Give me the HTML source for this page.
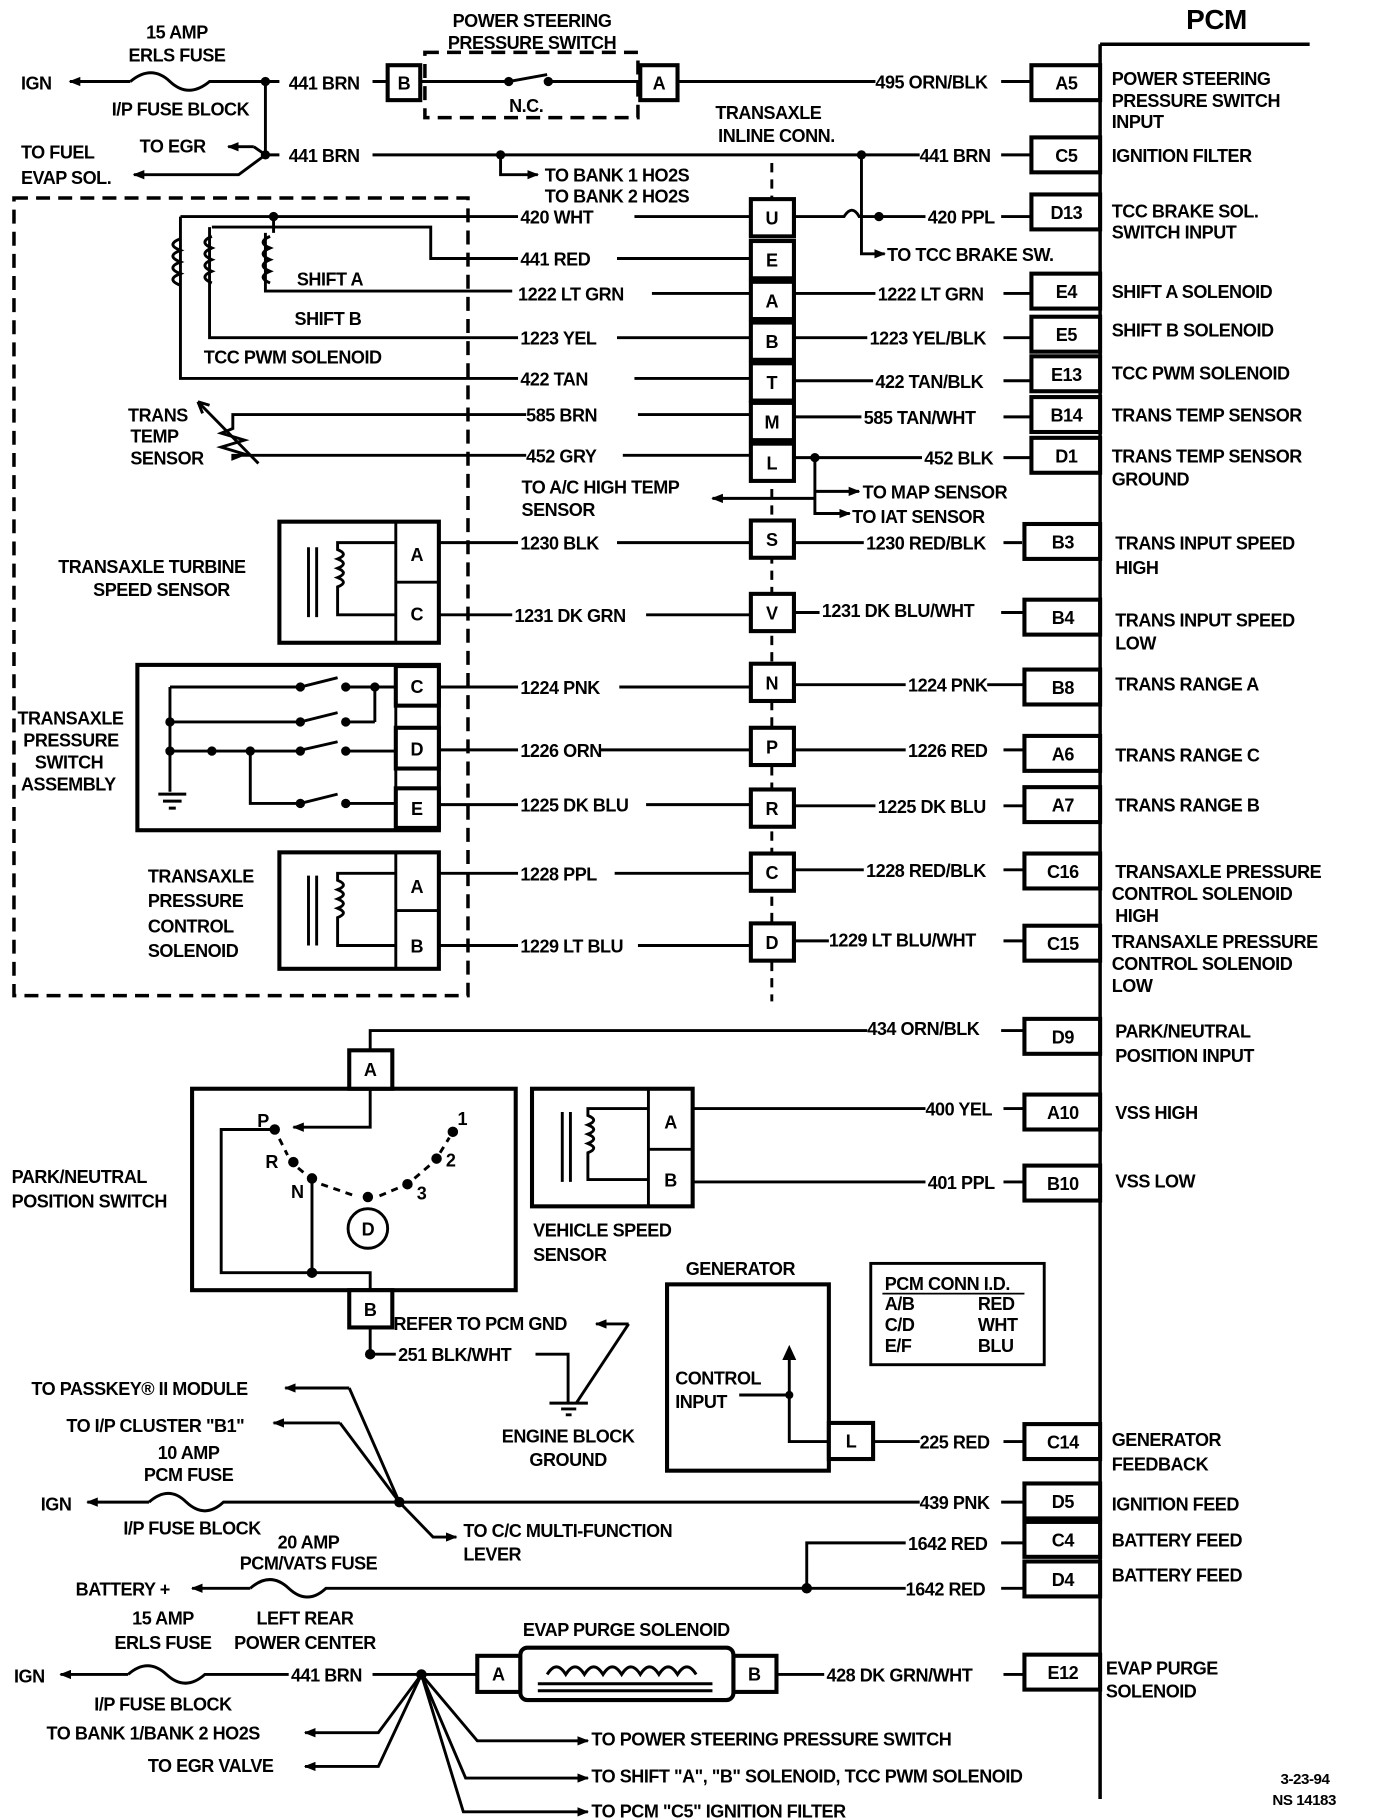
<!DOCTYPE html>
<html><head><style>
html,body{margin:0;padding:0;background:#fff}
svg{display:block}
text{font-family:"Liberation Sans",Arial,sans-serif;font-weight:bold;font-size:15.5px;fill:#000;letter-spacing:-0.4px}
.l{stroke:#000;stroke-width:2.5;fill:none}
.b{stroke:#000;stroke-width:3.5;fill:#fff}
.d{stroke:#000;stroke-width:3;fill:none;stroke-dasharray:12 7}
.c{text-anchor:middle}
</style></head><body>
<svg width="1376" height="1820" viewBox="0 0 1182 1563" preserveAspectRatio="none" xmlns="http://www.w3.org/2000/svg">
<defs>
<marker id="a" markerWidth="10" markerHeight="8" refX="9" refY="4" orient="auto" markerUnits="userSpaceOnUse"><path d="M0,0 L10,4 L0,8 z" fill="#000"/></marker>
</defs>
<!-- PCM -->
<text x="1045" y="25" class="c" style="font-size:24px">PCM</text>
<path class="l" d="M945,38 H1125 M945,38 V1545" style="stroke-width:3"/>
<g>
<rect class="b" x="886" y="56" width="59" height="30"/><text x="916" y="77" class="c">A5</text>
<rect class="b" x="886" y="118" width="59" height="30"/><text x="916" y="139" class="c">C5</text>
<rect class="b" x="886" y="167" width="59" height="30"/><text x="916" y="188" class="c">D13</text>
<rect class="b" x="886" y="235" width="59" height="30"/><text x="916" y="256" class="c">E4</text>
<rect class="b" x="886" y="272" width="59" height="30"/><text x="916" y="293" class="c">E5</text>
<rect class="b" x="886" y="306" width="59" height="30"/><text x="916" y="327" class="c">E13</text>
<rect class="b" x="886" y="341" width="59" height="30"/><text x="916" y="362" class="c">B14</text>
<rect class="b" x="886" y="376" width="59" height="30"/><text x="916" y="397" class="c">D1</text>
<rect class="b" x="880" y="450" width="65" height="30"/><text x="913" y="471" class="c">B3</text>
<rect class="b" x="880" y="515" width="65" height="30"/><text x="913" y="536" class="c">B4</text>
<rect class="b" x="880" y="575" width="65" height="30"/><text x="913" y="596" class="c">B8</text>
<rect class="b" x="880" y="632" width="65" height="30"/><text x="913" y="653" class="c">A6</text>
<rect class="b" x="880" y="676" width="65" height="30"/><text x="913" y="697" class="c">A7</text>
<rect class="b" x="880" y="733" width="65" height="30"/><text x="913" y="754" class="c">C16</text>
<rect class="b" x="880" y="795" width="65" height="30"/><text x="913" y="816" class="c">C15</text>
<rect class="b" x="880" y="875" width="65" height="30"/><text x="913" y="896" class="c">D9</text>
<rect class="b" x="880" y="940" width="65" height="30"/><text x="913" y="961" class="c">A10</text>
<rect class="b" x="880" y="1001" width="65" height="30"/><text x="913" y="1022" class="c">B10</text>
<rect class="b" x="880" y="1223" width="65" height="30"/><text x="913" y="1244" class="c">C14</text>
<rect class="b" x="880" y="1274" width="65" height="30"/><text x="913" y="1295" class="c">D5</text>
<rect class="b" x="880" y="1307" width="65" height="30"/><text x="913" y="1328" class="c">C4</text>
<rect class="b" x="880" y="1341" width="65" height="30"/><text x="913" y="1362" class="c">D4</text>
<rect class="b" x="880" y="1421" width="65" height="30"/><text x="913" y="1442" class="c">E12</text>
</g>
<g>
<text x="955" y="73">POWER STEERING</text><text x="955" y="92">PRESSURE SWITCH</text><text x="955" y="110">INPUT</text>
<text x="955" y="139">IGNITION FILTER</text>
<text x="955" y="187">TCC BRAKE SOL.</text><text x="955" y="205">SWITCH INPUT</text>
<text x="955" y="256">SHIFT A SOLENOID</text>
<text x="955" y="289">SHIFT B SOLENOID</text>
<text x="955" y="326">TCC PWM SOLENOID</text>
<text x="955" y="362">TRANS TEMP SENSOR</text>
<text x="955" y="397">TRANS TEMP SENSOR</text><text x="955" y="417">GROUND</text>
<text x="958" y="472">TRANS INPUT SPEED</text><text x="958" y="493">HIGH</text>
<text x="958" y="538">TRANS INPUT SPEED</text><text x="958" y="558">LOW</text>
<text x="958" y="593">TRANS RANGE A</text>
<text x="958" y="654">TRANS RANGE C</text>
<text x="958" y="697">TRANS RANGE B</text>
<text x="958" y="754">TRANSAXLE PRESSURE</text><text x="955" y="773">CONTROL SOLENOID</text><text x="958" y="792">HIGH</text>
<text x="955" y="814">TRANSAXLE PRESSURE</text><text x="955" y="833">CONTROL SOLENOID</text><text x="955" y="852">LOW</text>
<text x="958" y="891">PARK/NEUTRAL</text><text x="958" y="912">POSITION INPUT</text>
<text x="958" y="961">VSS HIGH</text>
<text x="958" y="1020">VSS LOW</text>
<text x="955" y="1242">GENERATOR</text><text x="955" y="1263">FEEDBACK</text>
<text x="955" y="1297">IGNITION FEED</text>
<text x="955" y="1328">BATTERY FEED</text>
<text x="955" y="1358">BATTERY FEED</text>
<text x="950" y="1438">EVAP PURGE</text><text x="950" y="1458">SOLENOID</text>
</g>
<!-- top section -->
<text x="152" y="33" class="c">15 AMP</text><text x="152" y="53" class="c">ERLS FUSE</text>
<text x="18" y="77">IGN</text>
<path class="l" d="M112,70 H60" marker-end="url(#a)"/>
<path class="l" d="M112,70 Q130,55 146,70 Q162,85 180,70 H240 M320,70 H335"/>
<text x="248" y="77">441 BRN</text>
<text x="155" y="99" class="c">I/P FUSE BLOCK</text>
<circle cx="228" cy="70" r="4"/><circle cx="228" cy="133" r="4"/>
<path class="l" d="M228,70 V133 M228,133 H240 M320,133 H740 M740,133 H790 M860,133 H886"/>
<text x="248" y="139">441 BRN</text><text x="790" y="139">441 BRN</text>
<text x="120" y="131">TO EGR</text>
<path class="l" d="M218,126 H196" marker-end="url(#a)"/><path class="l" d="M218,126 L228,133"/>
<text x="18" y="136">TO FUEL</text><text x="18" y="158">EVAP SOL.</text>
<path class="l" d="M228,133 L205,150 H115" marker-end="url(#a)"/>
<circle cx="430" cy="133" r="4"/>
<path class="l" d="M430,133 V150 H462" marker-end="url(#a)"/>
<text x="468" y="156">TO BANK 1 HO2S</text><text x="468" y="174">TO BANK 2 HO2S</text>
<circle cx="740" cy="133" r="4"/>
<path class="l" d="M740,133 V218 H760" marker-end="url(#a)"/>
<text x="762" y="224">TO TCC BRAKE SW.</text>
<text x="457" y="23" class="c">POWER STEERING</text><text x="457" y="42" class="c">PRESSURE SWITCH</text>
<rect class="b" x="333" y="56" width="28" height="30"/><text x="347" y="77" class="c">B</text>
<rect class="b" x="550" y="56" width="32" height="30"/><text x="566" y="77" class="c">A</text>
<rect class="d" x="365" y="45" width="183" height="56"/>
<path class="l" d="M361,70 H437 M472,70 H550 M437,70 L470,64"/>
<circle cx="437" cy="70" r="4"/><circle cx="471" cy="70" r="4"/>
<text x="452" y="96" class="c">N.C.</text>
<path class="l" d="M582,70 H752 M860,70 H886"/>
<text x="752" y="76">495 ORN/BLK</text>
<text x="660" y="102" class="c">TRANSAXLE</text><text x="667" y="122" class="c">INLINE CONN.</text>
<!-- inline connector -->
<path class="d" d="M663,140 V860" style="stroke-width:2.5;stroke-dasharray:8 6"/>
<g>
<rect class="b" x="645" y="171" width="37" height="32"/><text x="663" y="193" class="c">U</text>
<rect class="b" x="645" y="207" width="37" height="32"/><text x="663" y="229" class="c">E</text>
<rect class="b" x="645" y="242" width="37" height="32"/><text x="663" y="264" class="c">A</text>
<rect class="b" x="645" y="277" width="37" height="32"/><text x="663" y="299" class="c">B</text>
<rect class="b" x="645" y="312" width="37" height="32"/><text x="663" y="334" class="c">T</text>
<rect class="b" x="645" y="346" width="37" height="32"/><text x="663" y="368" class="c">M</text>
<rect class="b" x="645" y="381" width="37" height="32"/><text x="663" y="403" class="c">L</text>
<rect class="b" x="645" y="447" width="37" height="32"/><text x="663" y="469" class="c">S</text>
<rect class="b" x="645" y="510" width="37" height="32"/><text x="663" y="532" class="c">V</text>
<rect class="b" x="645" y="570" width="37" height="32"/><text x="663" y="592" class="c">N</text>
<rect class="b" x="645" y="625" width="37" height="32"/><text x="663" y="647" class="c">P</text>
<rect class="b" x="645" y="678" width="37" height="32"/><text x="663" y="700" class="c">R</text>
<rect class="b" x="645" y="733" width="37" height="32"/><text x="663" y="755" class="c">C</text>
<rect class="b" x="645" y="793" width="37" height="32"/><text x="663" y="815" class="c">D</text>
</g>
<!-- right side wires -->
<path class="l" d="M682,186 H725 Q732,175 738,186 H795 M860,186 H886"/>
<circle cx="755" cy="186" r="4"/><text x="797" y="192">420 PPL</text>
<path class="l" d="M682,252 H752 M862,252 H886"/><text x="754" y="258">1222 LT GRN</text>
<path class="l" d="M682,290 H745 M862,290 H886"/><text x="747" y="296">1223 YEL/BLK</text>
<path class="l" d="M682,327 H750 M862,327 H886"/><text x="752" y="333">422 TAN/BLK</text>
<path class="l" d="M682,358 H740 M862,358 H886"/><text x="742" y="364">585 TAN/WHT</text>
<path class="l" d="M682,393 H792 M862,393 H886"/><text x="794" y="399">452 BLK</text>
<circle cx="700" cy="393" r="4"/>
<path class="l" d="M700,393 V441 H730" marker-end="url(#a)"/>
<path class="l" d="M700,422 H738" marker-end="url(#a)"/>
<path class="l" d="M700,428 H612" marker-end="url(#a)"/>
<text x="741" y="428">TO MAP SENSOR</text><text x="732" y="449">TO IAT SENSOR</text>
<text x="448" y="424">TO A/C HIGH TEMP</text><text x="448" y="443">SENSOR</text>
<path class="l" d="M682,466 H742 M862,466 H878"/><text x="744" y="472">1230 RED/BLK</text>
<path class="l" d="M682,526 H704 M860,526 H880"/><text x="706" y="530">1231 DK BLU/WHT</text>
<path class="l" d="M682,588 H778 M848,588 H880"/><text x="780" y="594">1224 PNK</text>
<path class="l" d="M682,644 H778 M862,644 H880"/><text x="780" y="650">1226 RED</text>
<path class="l" d="M682,692 H752 M862,692 H880"/><text x="754" y="698">1225 DK BLU</text>
<path class="l" d="M682,747 H742 M862,747 H880"/><text x="744" y="753">1228 RED/BLK</text>
<path class="l" d="M682,808 H712 M862,808 H880"/><text x="712" y="813">1229 LT BLU/WHT</text>
<!-- left dashed box -->
<rect class="d" x="12" y="170" width="390" height="685"/>
<!-- solenoids -->
<path class="l" d="M155,186 H445 M545,186 H645 M155,186 V325 H445 M545,325 H645"/>
<text x="447" y="192">420 WHT</text><text x="447" y="331">422 TAN</text>
<circle cx="235" cy="186" r="4"/>
<path class="l" d="M235,186 V200 M228,200 V250 H440 M560,252 H645"/>
<text x="445" y="258">1222 LT GRN</text>
<path class="l" d="M182,195 H370 V222 H445 M530,222 H645"/><text x="447" y="228">441 RED</text>
<path class="l" d="M180,195 V258 M180,258 V290 H445 M530,290 H645"/><text x="447" y="296">1223 YEL</text>
<path class="l" d="M155,205 Q142,210 155,215 Q142,220 155,225 Q142,230 155,235 Q142,240 155,245"/>
<path class="l" d="M182,203 Q170,208 182,213 Q170,218 182,223 Q170,228 182,233 Q170,238 182,243"/>
<path class="l" d="M232,203 Q220,208 232,213 Q220,218 232,223 Q220,228 232,233 Q220,238 232,243"/>
<text x="255" y="245">SHIFT A</text><text x="253" y="279">SHIFT B</text>
<text x="175" y="312">TCC  PWM SOLENOID</text>
<text x="110" y="362">TRANS</text><text x="112" y="380">TEMP</text><text x="112" y="399">SENSOR</text>
<path class="l" d="M645,356 H548 M452,356 H200 V368 L190,372 L210,378 L190,384 L210,390 L200,394 V391 H452 M535,391 H645"/>
<text x="452" y="362">585 BRN</text><text x="452" y="397">452 GRY</text>
<path class="l" d="M170,345 L222,398 M170,345 L180,348 M170,345 L174,355"/>
<!-- turbine -->
<rect class="b" x="240" y="448" width="137" height="104"/>
<path class="l" d="M340,448 V552 M340,500 H377"/>
<text x="358" y="482" class="c">A</text><text x="358" y="533" class="c">C</text>
<path class="l" d="M265,470 V530 M272,470 V530 M340,466 H290 V472 Q300,476 290,480 Q300,484 290,488 Q300,492 290,496 Q300,500 290,504 V528 H340"/>
<text x="50" y="492">TRANSAXLE TURBINE</text><text x="80" y="512">SPEED SENSOR</text>
<path class="l" d="M377,466 H445 M530,466 H645"/><text x="447" y="472">1230 BLK</text>
<path class="l" d="M377,528 H440 M555,528 H645"/><text x="442" y="534">1231 DK GRN</text>
<!-- pressure switch assembly -->
<rect class="b" x="118" y="571" width="259" height="142"/>
<path class="l" d="M340,571 V713"/>
<rect class="b" x="340" y="572" width="37" height="34"/><text x="358" y="595" class="c">C</text>
<rect class="b" x="340" y="625" width="37" height="35"/><text x="358" y="649" class="c">D</text>
<rect class="b" x="340" y="677" width="37" height="34"/><text x="358" y="700" class="c">E</text>
<path class="l" d="M146,590 H258 L290,582 M297,590 H340 M322,590 V620 M146,590 V680 M146,620 H258 L290,612 M297,620 H322 M146,645 L180,645 L255,645 L290,637 M297,645 H340 M215,645 V690 H258 L290,682 M297,690 H340 M146,648 V680 M136,682 H160 M140,688 H156 M145,694 H151"/>
<circle cx="146" cy="620" r="4"/><circle cx="146" cy="645" r="4"/><circle cx="182" cy="645" r="4"/><circle cx="215" cy="645" r="4"/>
<circle cx="258" cy="590" r="4"/><circle cx="297" cy="590" r="4"/><circle cx="258" cy="620" r="4"/><circle cx="297" cy="620" r="4"/><circle cx="322" cy="590" r="4"/>
<circle cx="258" cy="645" r="4"/><circle cx="297" cy="645" r="4"/><circle cx="258" cy="690" r="4"/><circle cx="297" cy="690" r="4"/>
<text x="15" y="622">TRANSAXLE</text><text x="20" y="641">PRESSURE</text><text x="30" y="660">SWITCH</text><text x="18" y="679">ASSEMBLY</text>
<path class="l" d="M377,590 H445 M532,590 H645"/><text x="447" y="596">1224 PNK</text>
<path class="l" d="M377,644 H445 M515,644 H645"/><text x="447" y="650">1226 ORN</text>
<path class="l" d="M377,691 H445 M555,691 H645"/><text x="447" y="697">1225 DK BLU</text>
<!-- pressure control solenoid -->
<rect class="b" x="240" y="732" width="137" height="100"/>
<path class="l" d="M340,732 V832 M340,782 H377"/>
<text x="358" y="767" class="c">A</text><text x="358" y="818" class="c">B</text>
<path class="l" d="M265,752 V812 M272,752 V812 M340,750 H290 V756 Q300,760 290,764 Q300,768 290,772 Q300,776 290,780 Q300,784 290,788 V812 H340"/>
<text x="127" y="758">TRANSAXLE</text><text x="127" y="779">PRESSURE</text><text x="127" y="801">CONTROL</text><text x="127" y="822">SOLENOID</text>
<path class="l" d="M377,750 H445 M528,750 H645"/><text x="447" y="756">1228 PPL</text>
<path class="l" d="M377,812 H445 M548,812 H645"/><text x="447" y="818">1229 LT BLU</text>
<!-- park/neutral -->
<rect class="b" x="165" y="935" width="278" height="173"/>
<rect class="b" x="300" y="902" width="37" height="33"/><text x="318" y="924" class="c">A</text>
<rect class="b" x="300" y="1108" width="37" height="32"/><text x="318" y="1130" class="c">B</text>
<path class="l" d="M318,902 V885 H745 M860,885 H880"/><text x="745" y="889">434 ORN/BLK</text>
<path class="l" d="M318,935 V968 H252" marker-end="url(#a)"/>
<path class="l" d="M236,970 H190 V1093 H318 V1108 M268,1012 V1093"/>
<path class="l" d="M240,978 L247,992 M256,1003 L262,1008 M276,1017 L305,1027 M326,1027 L345,1019 M356,1012 L370,1000 M378,990 L386,977" style="stroke-dasharray:6 5"/>
<circle cx="236" cy="970" r="4.5"/><circle cx="252" cy="998" r="4.5"/><circle cx="268" cy="1012" r="4.5"/><circle cx="316" cy="1028" r="4.5"/><circle cx="350" cy="1017" r="4.5"/><circle cx="375" cy="995" r="4.5"/><circle cx="389" cy="972" r="4.5"/><circle cx="268" cy="1093" r="4.5"/>
<text x="221" y="968">P</text><text x="228" y="1003">R</text><text x="250" y="1029">N</text>
<text x="393" y="966">1</text><text x="383" y="1002">2</text><text x="358" y="1030">3</text>
<circle cx="316" cy="1055" r="17" class="l"/><text x="316" y="1061" class="c">D</text>
<text x="10" y="1016">PARK/NEUTRAL</text><text x="10" y="1037">POSITION SWITCH</text>
<text x="338" y="1142">REFER TO PCM GND</text>
<path class="l" d="M540,1137 H512" marker-end="url(#a)"/>
<path class="l" d="M540,1137 L495,1205"/>
<path class="l" d="M318,1140 V1163 H340 M460,1163 H488 V1205 M472,1205 H505 M482,1210 H495 M486,1215 H491"/>
<circle cx="318" cy="1163" r="4.5"/>
<text x="342" y="1169">251 BLK/WHT</text>
<text x="488" y="1239" class="c">ENGINE BLOCK</text><text x="488" y="1259" class="c">GROUND</text>
<!-- VSS -->
<rect class="b" x="457" y="935" width="138" height="101"/>
<path class="l" d="M557,935 V1036 M557,987 H595"/>
<text x="576" y="969" class="c">A</text><text x="576" y="1019" class="c">B</text>
<path class="l" d="M483,955 V1015 M490,955 V1015 M557,952 H505 V958 Q515,962 505,966 Q515,970 505,974 Q515,978 505,982 Q515,986 505,990 V1013 H557"/>
<path class="l" d="M595,952 H795 M862,952 H880"/><text x="795" y="958">400 YEL</text>
<path class="l" d="M595,1015 H795 M862,1015 H880"/><text x="797" y="1021">401 PPL</text>
<text x="458" y="1062">VEHICLE SPEED</text><text x="458" y="1083">SENSOR</text>
<!-- generator -->
<text x="636" y="1095" class="c">GENERATOR</text>
<rect class="b" x="573" y="1103" width="139" height="160"/>
<rect class="b" x="712" y="1222" width="38" height="31"/><text x="731" y="1243" class="c">L</text>
<text x="580" y="1189">CONTROL</text><text x="580" y="1209">INPUT</text>
<path class="l" d="M635,1198 H678 V1238 H712 M678,1198 V1160" />
<path d="M672,1168 L678,1155 L684,1168 z"/>
<circle cx="678" cy="1198" r="3.5"/>
<path class="l" d="M750,1238 H790 M862,1238 H880"/><text x="790" y="1244">225 RED</text>
<!-- conn id -->
<rect x="748" y="1085" width="149" height="87" class="l"/>
<text x="760" y="1108">PCM CONN I.D.</text>
<text x="760" y="1125">A/B</text><text x="840" y="1125">RED</text>
<text x="760" y="1143">C/D</text><text x="840" y="1143">WHT</text>
<text x="760" y="1161">E/F</text><text x="840" y="1161">BLU</text>
<path class="l" d="M758,1111 H880" style="stroke-width:1.5"/>
<!-- bottom -->
<text x="27" y="1198">TO PASSKEY® II MODULE</text>
<path class="l" d="M300,1192 H245" marker-end="url(#a)"/><path class="l" d="M300,1192 L343,1290"/>
<text x="57" y="1230">TO I/P CLUSTER "B1"</text>
<path class="l" d="M292,1222 H235" marker-end="url(#a)"/><path class="l" d="M292,1222 L343,1290"/>
<text x="162" y="1253" class="c">10 AMP</text><text x="162" y="1272" class="c">PCM FUSE</text>
<text x="35" y="1297">IGN</text>
<path class="l" d="M128,1290 H75" marker-end="url(#a)"/>
<path class="l" d="M128,1290 Q145,1275 160,1290 Q176,1305 192,1290 H790 M860,1290 H880"/>
<text x="790" y="1296">439 PNK</text>
<circle cx="343" cy="1290" r="4.5"/>
<path class="l" d="M343,1290 L372,1320 H392" marker-end="url(#a)"/>
<text x="398" y="1320">TO C/C MULTI-FUNCTION</text><text x="398" y="1340">LEVER</text>
<text x="165" y="1318" class="c">I/P FUSE BLOCK</text>
<text x="265" y="1330" class="c">20 AMP</text><text x="265" y="1348" class="c">PCM/VATS FUSE</text>
<text x="65" y="1370">BATTERY +</text>
<path class="l" d="M215,1364 H165" marker-end="url(#a)"/>
<path class="l" d="M215,1364 Q232,1349 248,1364 Q264,1379 280,1364 H778 M860,1364 H880"/>
<text x="778" y="1370">1642 RED</text>
<circle cx="693" cy="1364" r="4.5"/>
<path class="l" d="M693,1364 V1325 H778 M860,1325 H880"/><text x="780" y="1331">1642 RED</text>
<text x="262" y="1395" class="c">LEFT REAR</text><text x="262" y="1416" class="c">POWER CENTER</text>
<text x="140" y="1395" class="c">15 AMP</text><text x="140" y="1416" class="c">ERLS FUSE</text>
<text x="12" y="1445">IGN</text>
<path class="l" d="M110,1438 H52" marker-end="url(#a)"/>
<path class="l" d="M110,1438 Q127,1423 143,1438 Q159,1453 176,1438 H248 M320,1438 H410"/>
<text x="250" y="1444">441 BRN</text>
<text x="140" y="1469" class="c">I/P FUSE BLOCK</text>
<text x="538" y="1405" class="c">EVAP PURGE SOLENOID</text>
<rect class="b" x="410" y="1422" width="37" height="31"/><text x="428" y="1443" class="c">A</text>
<rect class="b" x="630" y="1422" width="37" height="31"/><text x="648" y="1443" class="c">B</text>
<rect class="b" x="447" y="1415" width="183" height="45" rx="6"/>
<path class="l" d="M470,1438 Q478,1425 486,1438 Q494,1425 502,1438 Q510,1425 518,1438 Q526,1425 534,1438 Q542,1425 550,1438 Q558,1425 566,1438 Q574,1425 582,1438 Q590,1425 598,1438 M462,1446 H612 M462,1452 H612"/>
<path class="l" d="M667,1438 H708 M862,1438 H880"/><text x="710" y="1444">428 DK GRN/WHT</text>
<circle cx="362" cy="1438" r="4.5"/>
<path class="l" d="M362,1438 L325,1488 H262" marker-end="url(#a)"/>
<path class="l" d="M362,1438 L325,1517 H262" marker-end="url(#a)"/>
<path class="l" d="M362,1438 L410,1495 H505" marker-end="url(#a)"/>
<path class="l" d="M362,1438 L400,1527 H505" marker-end="url(#a)"/>
<path class="l" d="M362,1438 L398,1556 H505" marker-end="url(#a)"/>
<text x="40" y="1494">TO BANK 1/BANK 2 HO2S</text>
<text x="127" y="1522">TO EGR VALVE</text>
<text x="508" y="1499">TO POWER STEERING PRESSURE SWITCH</text>
<text x="508" y="1531">TO SHIFT "A", "B" SOLENOID, TCC PWM SOLENOID</text>
<text x="508" y="1561">TO PCM "C5" IGNITION FILTER</text>
<text x="1100" y="1532" style="font-size:13px">3-23-94</text>
<text x="1093" y="1550" style="font-size:13px">NS 14183</text>
</svg>
</body></html>
